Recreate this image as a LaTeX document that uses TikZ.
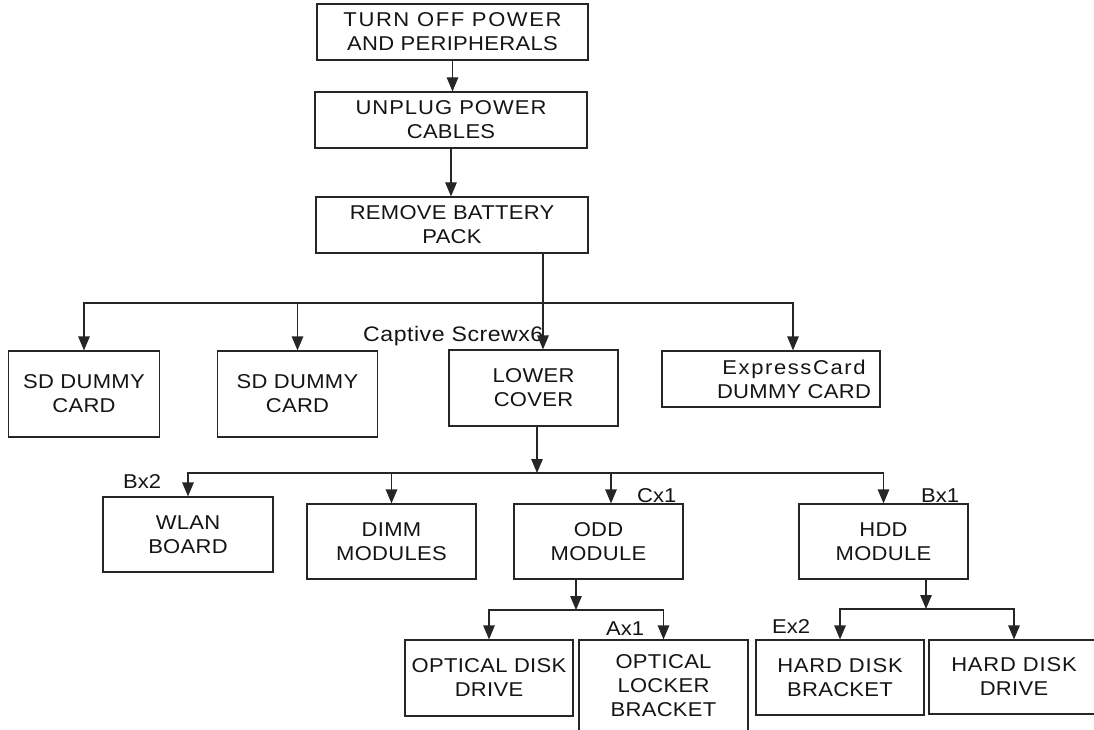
\documentclass[tikz,border=0pt]{standalone}
\usepackage{fontspec}
\setmainfont{Liberation Sans}
\newfontfamily\bxfont[FakeStretch=1.1,LetterSpace=1.5]{Liberation Sans}
\newfontfamily\lbfont[FakeStretch=1.1]{Liberation Sans}
\usetikzlibrary{arrows.meta}
\definecolor{ln}{gray}{0.15}
\begin{document}
\begin{tikzpicture}[x=1pt,y=-1pt,
  box/.style={draw=ln, line width=1.2pt, align=center, inner sep=0pt,
    font=\bxfont\fontsize{20}{24}\selectfont, text=black!92},
  conn/.style={draw=ln, line width=1.2pt, line join=miter},
  arr/.style={conn, -{Triangle[length=14pt,width=11.5pt]}},
  lbl/.style={font=\lbfont\fontsize{20}{24}\selectfont, inner sep=0pt, anchor=base west, text=black!92}]
\useasboundingbox (0,0) rectangle (1094,730);

% top chain
\node[box, minimum width=271pt, minimum height=56pt] (t1) at (452.5,32)
  {{\addfontfeature{LetterSpace=8}TURN OFF POWER}\\AND PERIPHERALS};
\node[box, minimum width=272pt, minimum height=56pt] (t2) at (451,120)
  {{\addfontfeature{LetterSpace=5}UNPLUG POWER}\\CABLES};
\node[box, minimum width=272pt, minimum height=56pt] (t3) at (452,225)
  {REMOVE BATTERY\\PACK};

% second level
\node[box, minimum width=151pt, minimum height=86pt] (sd1) at (84,394) {SD DUMMY\\CARD};
\node[box, minimum width=160pt, minimum height=86pt] (sd2) at (297.5,394) {SD DUMMY\\CARD};
\node[box, minimum width=169pt, minimum height=76pt] (lower) at (533.5,388) {LOWER\\COVER};
\node[box, minimum width=218pt, minimum height=56pt] (exp) at (771,379)
  {\hspace*{46pt}{\addfontfeature{LetterSpace=8}ExpressCard}\\\hspace*{46pt}DUMMY CARD};
\node[lbl, font=\lbfont\fontsize{21}{24}\selectfont\addfontfeature{LetterSpace=2.5}] (cap) at (363,341) {Captive Screwx6};

% third level
\node[box, minimum width=170pt, minimum height=75pt] (wlan) at (188,534.5) {WLAN\\BOARD};
\node[box, minimum width=169pt, minimum height=75pt] (dimm) at (391.5,541.5) {DIMM\\MODULES};
\node[box, minimum width=169pt, minimum height=75pt] (odd) at (598.5,541.5) {ODD\\MODULE};
\node[box, minimum width=169pt, minimum height=75pt] (hdd) at (883.5,541.5) {HDD\\MODULE};
\node[lbl] (lbx2) at (123,488) {Bx2};
\node[lbl] (lcx1) at (637,502) {Cx1};
\node[lbl] (lbx1) at (921,502) {Bx1};

% fourth level
\node[box, minimum width=168pt, minimum height=76pt] (odrv) at (489,678)
  {OPTICAL DISK\\DRIVE};
\node[box, minimum width=169pt, minimum height=92pt] (lock) at (663.5,686)
  {OPTICAL\\LOCKER\\BRACKET};
\node[box, minimum width=168pt, minimum height=75pt] (hdbr) at (840,677.5)
  {{\addfontfeature{LetterSpace=4}HARD DISK}\\BRACKET};
\node[box, minimum width=170pt, minimum height=74pt] (hddr) at (1014,677)
  {{\addfontfeature{LetterSpace=4}HARD DISK}\\DRIVE};
\node[lbl] (lax1) at (606,635) {Ax1};
\node[lbl] (lex2) at (772,633) {Ex2};

% connectors: top chain
\draw[arr] (t1.south) -- (t1.south |- t2.north);
\draw[arr] (t2.south) -- (t2.south |- t3.north);

% bus 1
\coordinate (b1) at (543,303);
\coordinate (b1r) at (793,303);
\draw[arr] (t3.south -| b1) -- (lower.north -| b1);
\draw[arr] (b1r) -- (sd1.north |- b1) -- (sd1.north);
\draw[arr] (sd1.north |- b1) -- (b1r) -- (b1r |- exp.north);
\draw[arr] (sd2.north |- b1) -- (sd2.north);

% bus 2
\coordinate (b2) at (537,473);
\coordinate (oddin) at (611,473);
\draw[arr] (lower.south -| b2) -- (b2);
\draw[arr] (hdd.north |- b2) -- (wlan.north |- b2) -- (wlan.north);
\draw[arr] (wlan.north |- b2) -- (hdd.north |- b2) -- (hdd.north);
\draw[arr] (dimm.north |- b2) -- (dimm.north);
\draw[arr] (oddin) -- (oddin |- odd.north);

% bus 3
\coordinate (b3) at (576,610);
\draw[arr] (odd.south -| b3) -- (b3);
\draw[arr] (lock.north |- b3) -- (odrv.north |- b3) -- (odrv.north);
\draw[arr] (odrv.north |- b3) -- (lock.north |- b3) -- (lock.north);

% bus 4
\coordinate (b4) at (926,609);
\draw[arr] (hdd.south -| b4) -- (b4);
\draw[arr] (hddr.north |- b4) -- (hdbr.north |- b4) -- (hdbr.north);
\draw[arr] (hdbr.north |- b4) -- (hddr.north |- b4) -- (hddr.north);
\end{tikzpicture}
\end{document}
